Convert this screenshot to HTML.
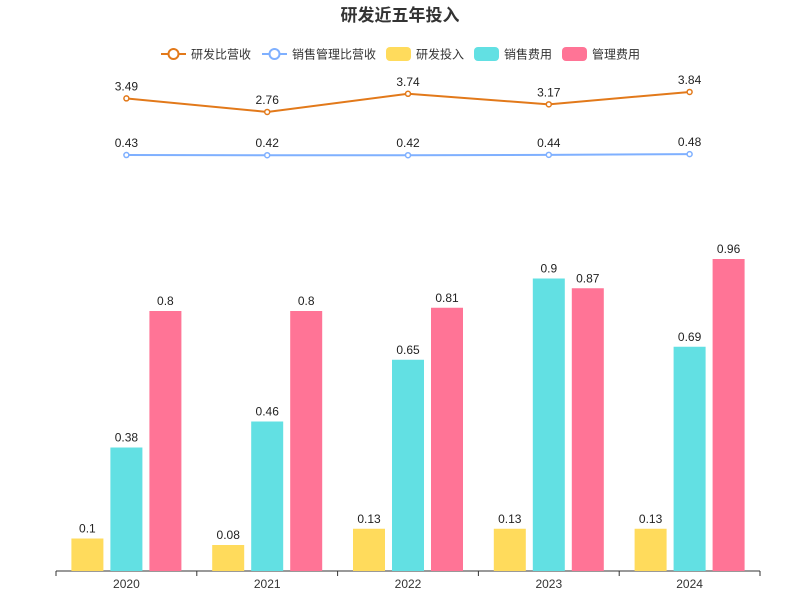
<!DOCTYPE html>
<html><head><meta charset="utf-8"><style>
body{margin:0;background:#fff}
svg{display:block;font-family:"Liberation Sans","Noto Sans CJK SC",sans-serif}
</style></head><body>
<svg id="c" width="800" height="600">
<text x="400" y="21" text-anchor="middle" font-size="17" font-weight="bold" fill="#333">研发近五年投入</text>
<g id="legend"></g>
<g id="plot"></g>
</svg>
<script>
const categories=["2020","2021","2022","2023","2024"];
const rdRatio=[3.49,2.76,3.74,3.17,3.84];
const smRatio=[0.43,0.42,0.42,0.44,0.48];
const rdSpend=[0.1,0.08,0.13,0.13,0.13];
const salesSpend=[0.38,0.46,0.65,0.9,0.69];
const mgmtSpend=[0.8,0.8,0.81,0.87,0.96];
const NS="http://www.w3.org/2000/svg";
const plot=document.getElementById('plot'),leg=document.getElementById('legend');
function mk(t,a,p,txt){const e=document.createElementNS(NS,t);for(const k in a)e.setAttribute(k,a[k]);if(txt!==undefined)e.textContent=txt;(p||plot).appendChild(e);return e;}
const x0=56,x1=760,bw=(x1-x0)/categories.length;
const xc=i=>x0+bw*(i+0.5);
const yb=v=>571-325*v;
const yl=v=>163-18.5*v;
// axis
let ax=mk('line',{x1:x0,x2:x1,y1:571,y2:571,stroke:'#333'});

for(let i=0;i<=categories.length;i++){let t=mk('line',{x1:x0+bw*i,x2:x0+bw*i,y1:571,y2:576,stroke:'#333'});}
categories.forEach((c,i)=>{let t=mk('text',{x:xc(i),y:588,'text-anchor':'middle','font-size':12,fill:'#333'},plot,c);});
const series=[[rdSpend,'#ffdb5c',-39,'bar-rd'],[salesSpend,'#62e0e3',0,'bar-sales'],[mgmtSpend,'#ff7496',39,'bar-mgmt']];
series.forEach(([d,col,off,nm])=>d.forEach((v,i)=>{
 const cx=xc(i)+off;
 let r=mk('rect',{x:cx-16,y:yb(v),width:32,height:571-yb(v),fill:col});
 
 let t=mk('text',{x:cx,y:yb(v)-6,'text-anchor':'middle','font-size':12,fill:'#222'},plot,String(v));
 
}));
[[rdRatio,'#e2791a','line-rd-ratio'],[smRatio,'#7fb0ff','line-sm-ratio']].forEach(([d,col,nm])=>{
 let p=mk('polyline',{points:d.map((v,i)=>xc(i)+','+yl(v)).join(' '),fill:'none',stroke:col,'stroke-width':2});
 
 d.forEach((v,i)=>{
  let c=mk('circle',{cx:xc(i),cy:yl(v),r:2.5,fill:'#fff',stroke:col,'stroke-width':1.5});
  
  let t=mk('text',{x:xc(i),y:yl(v)-8,'text-anchor':'middle','font-size':12,fill:'#222'},plot,v.toFixed(2));
  
 });
});
const items=[['研发比营收','#e2791a','l',161],['销售管理比营收','#7fb0ff','l',262],['研发投入','#ffdb5c','b',386],['销售费用','#62e0e3','b',474],['管理费用','#ff7496','b',562]];
items.forEach(([n,col,t,x])=>{
 let g=mk('g',{},leg);
 if(t==='l'){mk('line',{x1:x,x2:x+25,y1:54,y2:54,stroke:col,'stroke-width':2},g);mk('circle',{cx:x+12.5,cy:54,r:5,fill:'#fff',stroke:col,'stroke-width':2},g);}
 else mk('rect',{x:x,y:47,width:25,height:14,rx:4,fill:col},g);
 mk('text',{x:x+30,y:58.5,'font-size':12,fill:'#333'},g,n);
});
</script>
</body></html>
